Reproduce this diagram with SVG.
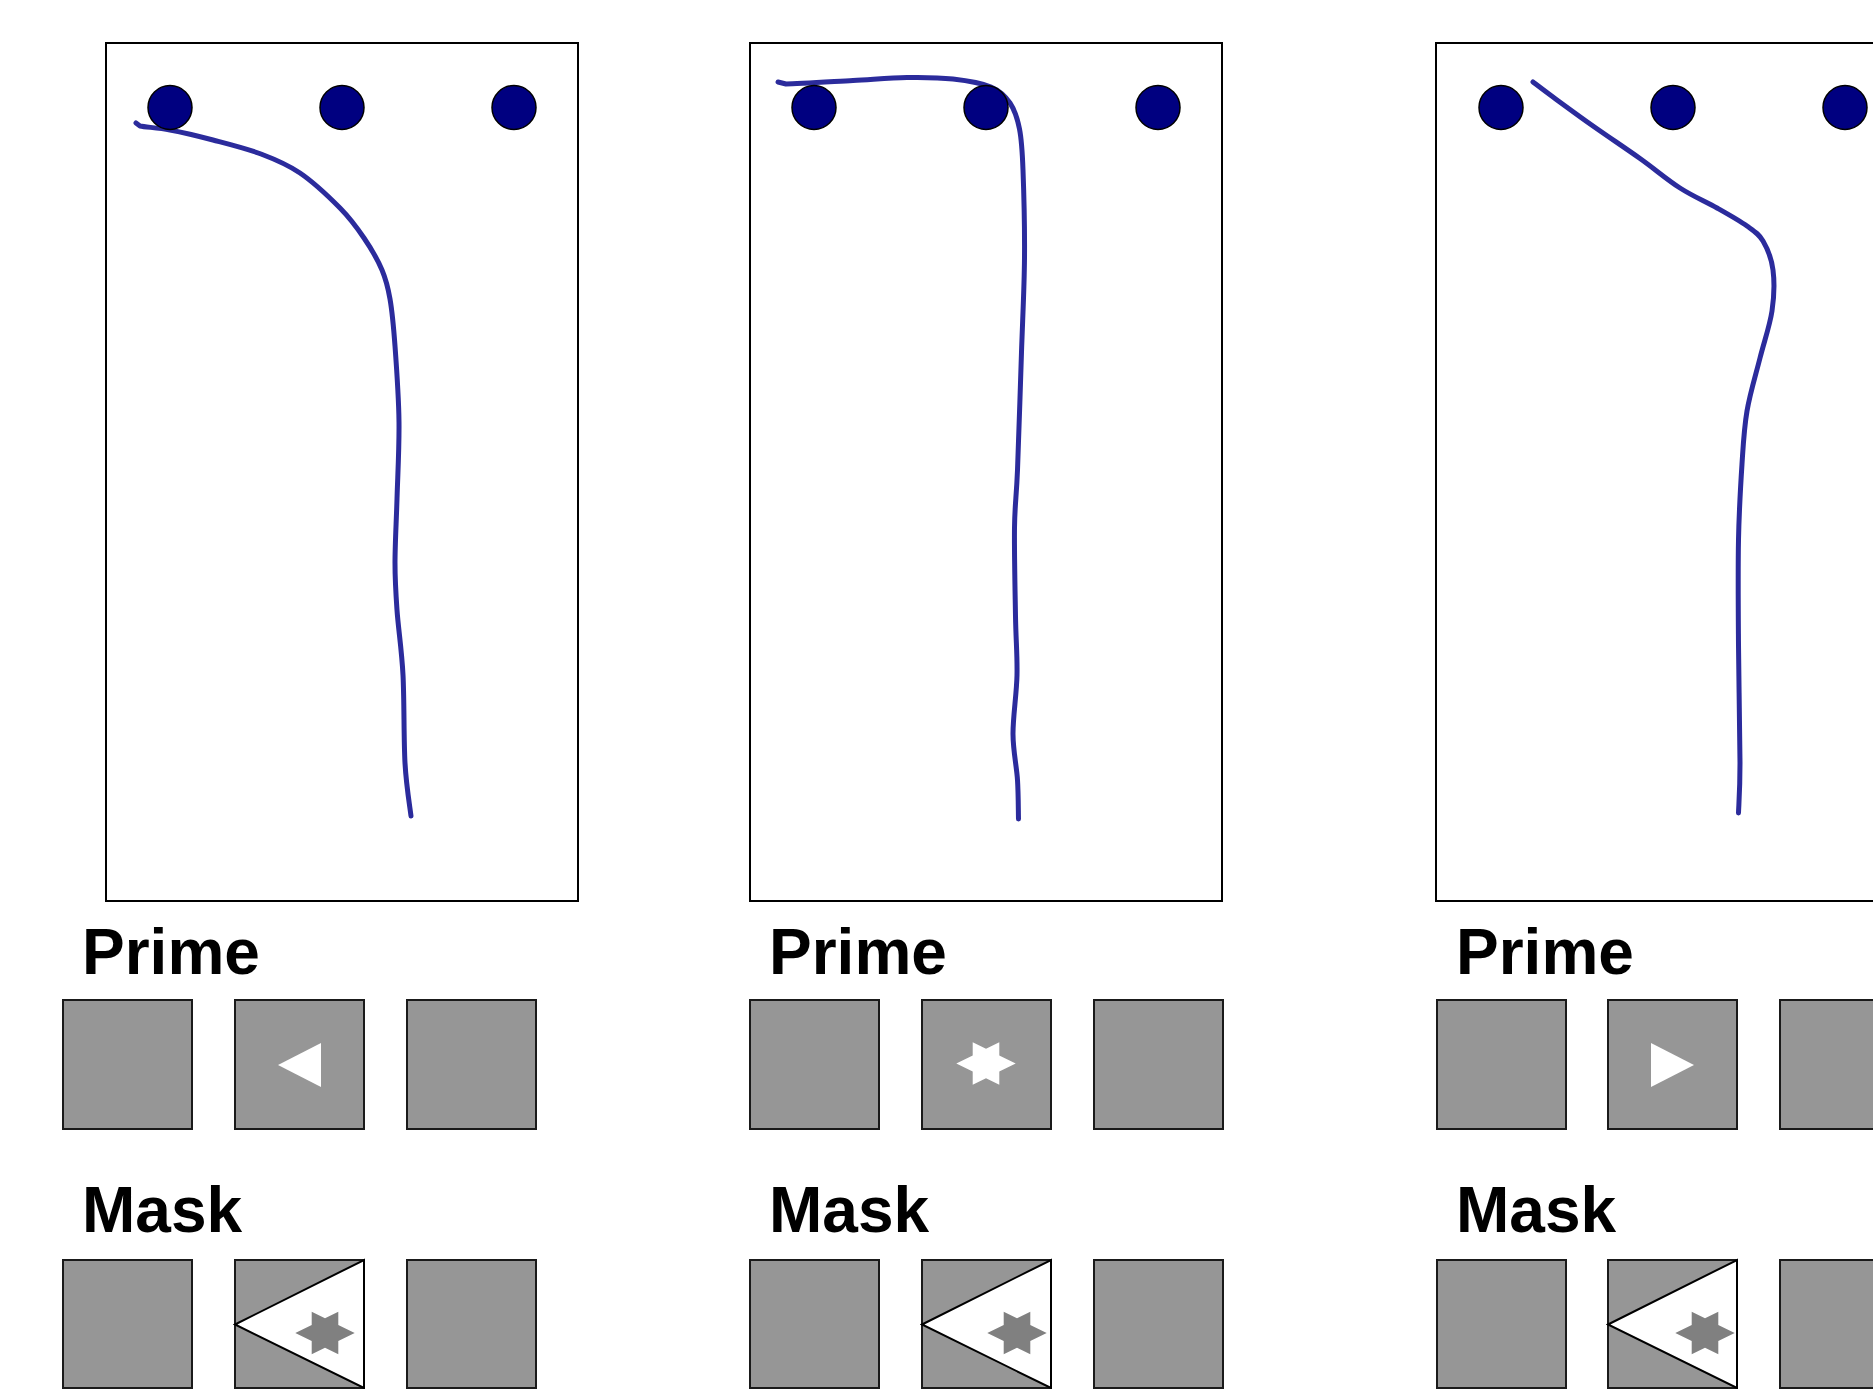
<svg xmlns="http://www.w3.org/2000/svg" width="1873" height="1389" viewBox="0 0 1873 1389">
<style>
  .frame { fill: #ffffff; stroke: #000000; stroke-width: 2; }
  .target { fill: #000080; stroke: #000000; stroke-width: 1.5; }
  .path { fill: none; stroke: #2b2b9c; stroke-width: 5; stroke-linecap: round; stroke-linejoin: round; }
  .sq { fill: #969696; stroke: #1a1a1a; stroke-width: 2; }
  .mtri { fill: #ffffff; stroke: #000000; stroke-width: 2; stroke-linejoin: miter; }
  .sym { fill: #ffffff; }
  .mstar { fill: #808080; }
  .lbl { font-family: "Liberation Sans", Arial, sans-serif; font-weight: bold; font-size: 64px; fill: #000000; }
</style>
<defs>
  <path id="star" d="M29.7,0 L13.3,8.1 L13.3,21.3 L0,14.7 L-13.3,21.3 L-13.3,8.1 L-29.7,0 L-13.3,-8.1 L-13.3,-21.3 L0,-14.7 L13.3,-21.3 L13.3,-8.1 Z"/>
</defs>

<g id="panel1">
  <rect class="frame" x="106" y="43" width="472" height="858"/>
</g>
<g id="panel2">
  <rect class="frame" x="750" y="43" width="472" height="858"/>
</g>
<g id="panel3">
  <rect class="frame" x="1436" y="43" width="472" height="858"/>
</g>

<g id="connectors">
  <path class="path" d="M136,123 L140,126 C145.7,127.2 157.8,127.7 170,130 C182.2,132.3 197.8,136 213,140 C228.2,144 246.5,148.5 261,154 C275.5,159.5 286.8,164 300,173 C313.2,182 329.3,197.2 340,208 C350.7,218.8 357,227.7 364,238 C371,248.3 377.7,259.8 382,270 C386.3,280.2 387.8,286.3 390,299 C392.2,311.7 393.5,325.5 395,346 C396.5,366.5 398.7,396.5 399,422 C399.3,447.5 397.7,475.5 397,499 C396.3,522.5 395,544.5 395,563 C395,581.5 395.7,591.3 397,610 C398.3,628.7 401.7,649.5 403,675 C404.3,700.5 403.7,739.5 405,763 C406.3,786.5 410,807.2 411,816"/>
  <path class="path" d="M778,82 L786,84 C798.5,83.75 832.8,81.6 853,80.5 C873.2,79.4 890.3,77.75 907,77.5 C923.7,77.25 939,77.4 953,79 C967,80.6 981.5,83 991,87 C1000.5,91 1005.25,96 1010,103 C1014.75,110 1017.3,117.8 1019.5,129 C1021.7,140.2 1022.2,148.5 1023,170 C1023.8,191.5 1024.75,227.7 1024.5,258 C1024.25,288.3 1022.7,316.7 1021.5,352 C1020.3,387.3 1018.7,440.7 1017.5,470 C1016.3,499.3 1014.8,503.7 1014.5,528 C1014.2,552.3 1015.1,591.5 1015.5,616 C1015.9,640.5 1017.4,655.3 1017,675 C1016.6,694.7 1012.9,716.5 1013,734 C1013.1,751.5 1016.6,765.8 1017.5,780 C1018.4,794.2 1018.3,812.5 1018.5,819"/>
  <path class="path" d="M1533,82 C1536.3,84.5 1543,89.7 1553,97 C1563,104.3 1578.5,115.7 1593,126 C1607.5,136.25 1625.5,148.2 1640,158.5 C1654.5,168.8 1667.2,179.75 1680,188 C1692.8,196.25 1705.8,201.7 1717,208 C1728.2,214.3 1739.3,220.5 1747,226 C1754.7,231.5 1758.7,233.7 1763,241 C1767.3,248.3 1771.5,258.3 1773,270 C1774.5,281.7 1774.2,296.3 1772,311 C1769.8,325.7 1764.2,341.3 1760,358 C1755.8,374.7 1750,393.3 1747,411 C1744,428.7 1743.4,442.5 1742,464 C1740.6,485.5 1739.1,509.8 1738.5,540 C1737.9,570.2 1738.25,607.8 1738.5,645 C1738.75,682.2 1740,735 1740,763 C1740,791 1738.75,804.7 1738.5,813"/>
</g>

<g id="targets1">
  <circle class="target" cx="170" cy="107.5" r="22"/>
  <circle class="target" cx="342" cy="107.5" r="22"/>
  <circle class="target" cx="514" cy="107.5" r="22"/>
</g>
<g id="targets2">
  <circle class="target" cx="814" cy="107.5" r="22"/>
  <circle class="target" cx="986" cy="107.5" r="22"/>
  <circle class="target" cx="1158" cy="107.5" r="22"/>
</g>
<g id="targets3">
  <circle class="target" cx="1501" cy="107.5" r="22"/>
  <circle class="target" cx="1673" cy="107.5" r="22"/>
  <circle class="target" cx="1845" cy="107.5" r="22"/>
</g>

<g id="prime1">
  <text class="lbl" x="82" y="974">Prime</text>
  <rect class="sq" x="63" y="1000" width="129" height="129"/>
  <rect class="sq" x="235" y="1000" width="129" height="129"/>
  <rect class="sq" x="407" y="1000" width="129" height="129"/>
  <polygon class="sym" points="278,1065 321,1043 321,1087"/>
</g>
<g id="mask1">
  <text class="lbl" x="82" y="1232">Mask</text>
  <rect class="sq" x="63" y="1260" width="129" height="128"/>
  <rect class="sq" x="235" y="1260" width="129" height="128"/>
  <rect class="sq" x="407" y="1260" width="129" height="128"/>
  <polygon class="mtri" points="235,1324.5 364,1260 364,1388"/>
  <use href="#star" class="mstar" transform="translate(325,1333)"/>
</g>

<g id="prime2">
  <text class="lbl" x="769" y="974">Prime</text>
  <rect class="sq" x="750" y="1000" width="129" height="129"/>
  <rect class="sq" x="922" y="1000" width="129" height="129"/>
  <rect class="sq" x="1094" y="1000" width="129" height="129"/>
  <use href="#star" class="sym" transform="translate(986,1063.5)"/>
</g>
<g id="mask2">
  <text class="lbl" x="769" y="1232">Mask</text>
  <rect class="sq" x="750" y="1260" width="129" height="128"/>
  <rect class="sq" x="922" y="1260" width="129" height="128"/>
  <rect class="sq" x="1094" y="1260" width="129" height="128"/>
  <polygon class="mtri" points="922,1324.5 1051,1260 1051,1388"/>
  <use href="#star" class="mstar" transform="translate(1017,1333)"/>
</g>

<g id="prime3">
  <text class="lbl" x="1456" y="974">Prime</text>
  <rect class="sq" x="1437" y="1000" width="129" height="129"/>
  <rect class="sq" x="1608" y="1000" width="129" height="129"/>
  <rect class="sq" x="1780" y="1000" width="129" height="129"/>
  <polygon class="sym" points="1651,1043 1651,1087 1694,1065"/>
</g>
<g id="mask3">
  <text class="lbl" x="1456" y="1232">Mask</text>
  <rect class="sq" x="1437" y="1260" width="129" height="128"/>
  <rect class="sq" x="1608" y="1260" width="129" height="128"/>
  <rect class="sq" x="1780" y="1260" width="129" height="128"/>
  <polygon class="mtri" points="1608,1324.5 1737,1260 1737,1388"/>
  <use href="#star" class="mstar" transform="translate(1705,1333)"/>
</g>
</svg>
